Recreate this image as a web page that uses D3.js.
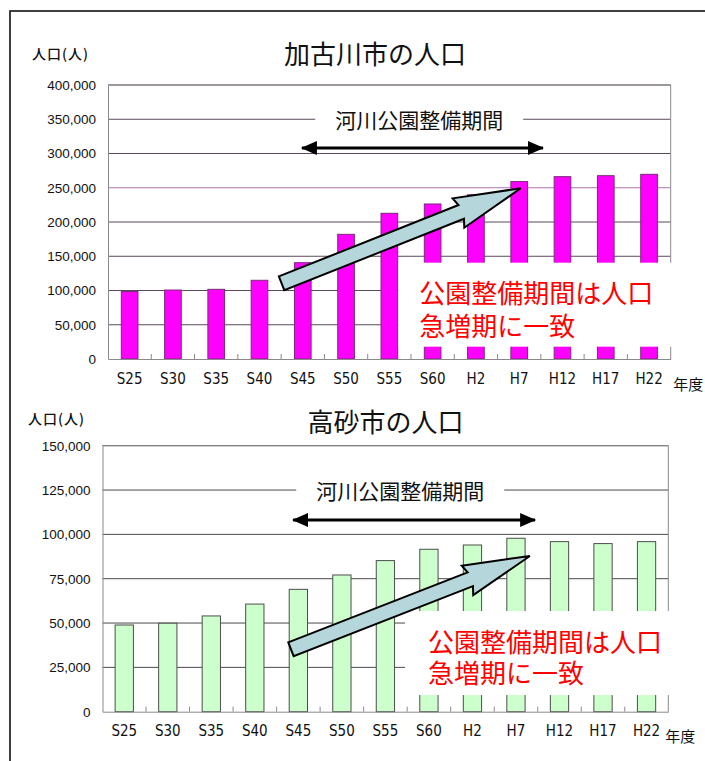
<!DOCTYPE html>
<html>
<head>
<meta charset="utf-8">
<script src="https://cdn.jsdelivr.net/npm/d3@7"></script>
<style>
  html, body { margin: 0; padding: 0; background: #fff; }
  svg { display: block; }
</style>
</head>
<body>
<svg id="chart" width="705" height="761"></svg>
<script>
// ---------- DATA ----------
const categories = ["S25","S30","S35","S40","S45","S50","S55","S60","H2","H7","H12","H17","H22"];
const kakogawaPop = [98500,100700,101700,114900,140600,182000,212700,226300,239800,259000,266200,267600,269600];
const takasagoPop = [48900,49900,54000,60700,69000,77100,85200,91600,94000,97800,95900,94800,95900];
const kakogawaTicks = [0,50000,100000,150000,200000,250000,300000,350000,400000];
const takasagoTicks = [0,25000,50000,75000,100000,125000,150000];
const titles = ["加古川市の人口","高砂市の人口"];
const yAxisLabel = "人口(人)";
const xAxisLabel = "年度";
const periodLabel = "河川公園整備期間";
const noteLines = ["公園整備期間は人口","急増期に一致"];
// annotation anchors in data units (category index position, population)
const kakoAnn = { period:{x:7.19,y:350000}, span:{x0:4.48,x1:10.05,y:308000},
                  trend:{x0:4.01,y0:110500,x1:9.535,y1:249200}, note:{x:7.19,y:98250} };
const takaAnn = { period:{x:6.84,y:125000}, span:{x0:4.38,x1:9.94,y:108100},
                  trend:{x0:4.33,y0:35200,x1:9.82,y1:87800}, note:{x:7.48,y:40400} };

const svg = d3.select("#chart");
const FONT_JP = "'Noto Sans CJK JP','Noto Sans CJK SC',sans-serif";
const FONT_NUM = "'Liberation Sans',Arial,sans-serif";
const FONT_CAT = "'Liberation Sans Narrow','DejaVu Sans Condensed','Liberation Sans',sans-serif";

// outer frame
svg.append("rect").attr("x",10).attr("y",11).attr("width",720).attr("height",780)
  .attr("fill","none").attr("stroke","#111").attr("stroke-width",1.6);

svg.append("defs").html(`
  <marker id="ah" viewBox="0 0 16 14" refX="15" refY="7" markerWidth="16" markerHeight="14" markerUnits="userSpaceOnUse" orient="auto-start-reverse">
    <path d="M0,0 L16,7 L0,14 Z" fill="#000"/>
  </marker>`);

function drawChart(cfg) {
  const g = svg.append("g");
  const x = d3.scaleBand().domain(categories).range([cfg.left, cfg.right])
      .paddingInner(cfg.padIn).paddingOuter(cfg.padIn/2);
  const y = d3.scaleLinear().domain([0, d3.max(cfg.ticks)]).range([cfg.bottom, cfg.top]);
  const step = x.step(), x0 = x.range()[0];
  const px = i => x0 + i*step;

  // gridlines
  g.append("g").selectAll("line").data(cfg.ticks.filter(t => t > 0)).join("line")
    .attr("x1", cfg.left).attr("x2", cfg.right)
    .attr("y1", d => y(d)).attr("y2", d => y(d))
    .attr("stroke", d => cfg.gridColor(d)).attr("stroke-width", 1);

  // plot frame (right + top)
  g.append("path")
    .attr("d", `M${cfg.left},${cfg.top}H${cfg.right}V${cfg.bottom}`)
    .attr("fill","none").attr("stroke","#8a8a8a").attr("stroke-width",1);

  // bars
  g.append("g").selectAll("rect").data(cfg.values).join("rect")
    .attr("x", (d,i) => x(categories[i])).attr("width", x.bandwidth())
    .attr("y", d => y(d)).attr("height", d => y(0) - y(d))
    .attr("fill", cfg.fill).attr("stroke", cfg.stroke).attr("stroke-width", 1);

  // y axis
  const ya = d3.axisLeft(y).tickValues(cfg.ticks).tickSize(0).tickPadding(12)
      .tickFormat(d3.format(","));
  const yg = g.append("g").attr("transform", `translate(${cfg.left},0)`).call(ya);
  yg.select(".domain").attr("stroke","#8a8a8a");
  yg.selectAll("text").attr("font-family", FONT_NUM).attr("font-size", 13.5).attr("fill","#111");

  // x axis
  const xa = d3.axisBottom(x).tickSize(0).tickPadding(14);
  const xg = g.append("g").attr("transform", `translate(0,${cfg.bottom})`).call(xa);
  xg.select(".domain").attr("stroke","#8a8a8a");
  xg.selectAll("text").attr("font-family", FONT_CAT).attr("font-size", 15).attr("fill","#111");
  // inward tick marks at category boundaries
  g.append("g").selectAll("line").data(d3.range(1, categories.length)).join("line")
    .attr("x1", i => px(i)).attr("x2", i => px(i))
    .attr("y1", cfg.bottom).attr("y2", cfg.bottom - 5)
    .attr("stroke","#8a8a8a").attr("stroke-width",1);

  // titles / axis names
  g.append("text").attr("x", cfg.titleX).attr("y", cfg.titleY).attr("text-anchor","middle")
    .attr("dominant-baseline","central").attr("font-family", FONT_JP).attr("font-size", 26)
    .attr("fill","#111").text(cfg.title);
  g.append("text").attr("x", cfg.ylabX).attr("y", cfg.ylabY).attr("dominant-baseline","central")
    .attr("font-family", FONT_JP).attr("font-size", 14).attr("font-weight", 500)
    .attr("letter-spacing", 1).attr("fill","#111").text(yAxisLabel);
  g.append("text").attr("x", cfg.right + cfg.unitDx).attr("y", cfg.bottom + cfg.unitDy)
    .attr("dominant-baseline","central").attr("font-family", FONT_JP).attr("font-size", 15)
    .attr("fill","#111").text(xAxisLabel);

  const A = cfg.ann;
  // period label with white background
  const pt = g.append("text").attr("x", px(A.period.x)).attr("y", y(A.period.y))
    .attr("text-anchor","middle").attr("dominant-baseline","central")
    .attr("font-family", FONT_JP).attr("font-size", 21).attr("fill","#111").text(periodLabel);
  const pb = pt.node().getBBox();
  g.insert("rect", () => pt.node()).attr("x", pb.x - 20).attr("y", y(A.period.y) - 14)
    .attr("width", pb.width + 40).attr("height", 28).attr("fill","#fff");

  // double-headed span arrow
  g.append("line").attr("x1", px(A.span.x0)).attr("x2", px(A.span.x1))
    .attr("y1", y(A.span.y)).attr("y2", y(A.span.y))
    .attr("stroke","#000").attr("stroke-width",3)
    .attr("marker-start","url(#ah)").attr("marker-end","url(#ah)");

  // red note with white box (box offsets relative to first line centre)
  const ng = g.append("g");
  const nx = px(A.note.x), ny = y(A.note.y);
  const P = cfg.notePad; // [top, right, bottom, left]
  const box = ng.append("rect").attr("fill","#fff");
  const nt = ng.selectAll("text").data(noteLines).join("text")
    .attr("x", nx).attr("y", (d,i) => ny + i*cfg.noteLH)
    .attr("dominant-baseline","central").attr("font-family", FONT_JP).attr("font-size", 26)
    .attr("fill","#ff0000").text(d => d);
  const w1 = nt.nodes()[0].getComputedTextLength();
  box.attr("x", nx - P[3]).attr("y", ny - P[0])
    .attr("width", w1 + P[1] + P[3]).attr("height", cfg.noteLH + P[0] + P[2]);

  // block trend arrow
  const sx = px(A.trend.x0), sy = y(A.trend.y0), ex = px(A.trend.x1), ey = y(A.trend.y1);
  const L = Math.hypot(ex - sx, ey - sy);
  const ux = (ex - sx)/L, uy = (ey - sy)/L, nxv = -uy, nyv = ux;
  const hw = 7.4, bw = 15.8, headLen = 64;
  const Q = (a, b) => [sx + ux*a + nxv*b, sy + uy*a + nyv*b];
  const pts = [Q(0,-hw), Q(L-headLen,-hw), Q(L-headLen-3,-bw), Q(L,0),
               Q(L-headLen-3,bw), Q(L-headLen,hw), Q(0,hw)];
  g.append("path").attr("d", d3.line()(pts) + "Z")
    .attr("fill","#b5d6da").attr("stroke","#000").attr("stroke-width",2).attr("stroke-linejoin","miter");
}

drawChart({
  left:108, right:670.7, top:85, bottom:359, padIn:0.615,
  values:kakogawaPop, ticks:kakogawaTicks, fill:"#ff00ff", stroke:"#7a2a7a",
  gridColor: d => d === 250000 ? "#b070b0" : "#5a4a5a",
  title:titles[0], titleX:375, titleY:52.5, ylabX:32, ylabY:53,
  unitDx:2.5, unitDy:24, ann:kakoAnn, noteLH:33, notePad:[29,32,22,21]
});
drawChart({
  left:102.5, right:668.3, top:445.7, bottom:711.7, padIn:0.58,
  values:takasagoPop, ticks:takasagoTicks, fill:"#ccffcc", stroke:"#4d4d4d",
  gridColor: d => "#4a4a4a",
  title:titles[1], titleX:385.5, titleY:420, ylabX:28, ylabY:418,
  unitDx:-3, unitDy:23.5, ann:takaAnn, noteLH:31, notePad:[29,27,24,23]
});
</script>
</body>
</html>
